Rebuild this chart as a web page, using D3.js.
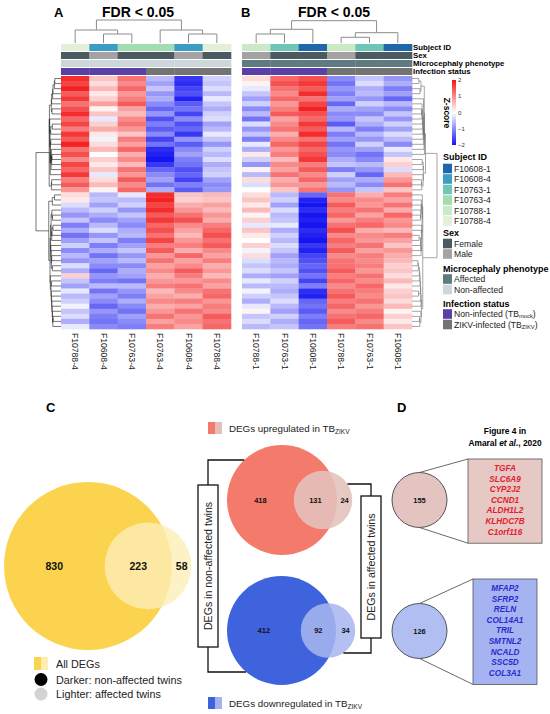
<!DOCTYPE html>
<html><head><meta charset="utf-8">
<script src="https://cdn.jsdelivr.net/npm/d3@7"></script>
<style>body{margin:0;background:#fff}svg{display:block;font-family:"Liberation Sans",Arial,sans-serif}</style>
</head><body><svg id="c" width="550" height="714"></svg>
<script>
// ---------------- DATA ----------------
const colsA = ["F10788-4","F10608-4","F10763-4","F10763-4","F10608-4","F10788-4"];
const colsB = ["F10788-1","F10763-1","F10608-1","F10788-1","F10763-1","F10608-1"];
const sexA = ["Female","Male","Female","Female","Male","Female"];
const sexB = ["Male","Female","Female","Male","Female","Female"];
const microA = ["Non-affected","Non-affected","Non-affected","Non-affected","Non-affected","Non-affected"];
const microB = ["Affected","Affected","Affected","Affected","Affected","Affected"];
const infA = ["Non-infected","Non-infected","Non-infected","ZIKV-infected","ZIKV-infected","ZIKV-infected"];
const infB = ["Non-infected","Non-infected","Non-infected","ZIKV-infected","ZIKV-infected","ZIKV-infected"];
const colTreeA = {h:2.3,children:[{h:1.3,children:[{leaf:0},{h:0.9,children:[{leaf:1},{leaf:2}]}]},{h:1.3,children:[{leaf:3},{h:0.9,children:[{leaf:4},{leaf:5}]}]}]};
const colTreeB = {h:2.23,children:[{h:1.37,children:[{h:0.9,children:[{leaf:0},{leaf:1}]},{leaf:2}]},{h:1.03,children:[{h:0.57,children:[{leaf:3},{leaf:4}]},{leaf:5}]}]};
const heatA = [
[1.8,0.5,1.2,-0.6,-1.7,-0.4],[1.6,0.3,1.0,-0.8,-1.8,-0.5],[1.9,0.6,1.3,-0.5,-1.6,-0.3],[1.4,0.2,0.9,-0.9,-1.5,-0.6],
[1.7,0.4,1.1,-0.7,-1.9,-0.2],[1.2,0.8,1.4,-1.0,-1.4,-0.5],[1.5,0.1,0.8,-1.3,-1.2,-0.7],[1.8,0.5,0.6,-0.9,-1.6,-0.4],
[1.3,-0.2,1.0,-1.5,-1.0,-0.3],[1.6,0.4,1.2,-1.1,-1.5,-0.8],[1.1,0.7,0.9,-1.4,-1.3,-0.6],[1.7,0.2,0.5,-1.0,-1.7,-0.2],
[1.4,-0.1,1.1,-1.6,-0.9,-0.5],[1.9,0.3,0.8,-1.2,-1.4,-0.9],[1.2,0.6,1.3,-1.8,-1.0,-0.4],[1.5,0.0,0.7,-1.9,-0.8,-0.6],
[1.0,0.4,1.0,-2.0,-1.1,-0.3],[1.6,0.2,0.6,-1.7,-1.2,-0.7],[1.3,0.5,1.2,-1.3,-1.5,-0.5],[1.7,-0.2,0.9,-1.0,-1.3,-0.4],
[1.1,0.3,1.4,-0.8,-1.6,-0.8],[1.4,0.6,1.0,-1.2,-1.1,-1.0],[0.9,0.1,1.3,-0.7,-1.4,-0.9],[0.3,-0.6,-0.2,1.8,0.5,0.6],
[0.2,-0.5,-0.6,1.9,0.4,0.5],[-0.3,-0.8,-0.4,1.6,0.7,0.8],[-0.6,-0.4,-0.9,1.8,0.9,0.6],[-0.9,-0.7,-0.5,1.4,1.2,0.9],
[-0.5,-1.0,-0.8,1.7,1.5,0.7],[-1.1,-0.6,-1.0,1.3,1.0,1.1],[-0.7,-0.3,-0.7,1.5,0.8,1.3],[-1.2,-0.9,-0.6,1.2,0.6,1.5],
[-0.8,-0.5,-1.1,1.6,0.9,1.2],[-0.4,-1.1,-0.8,1.1,1.1,1.4],[-1.0,-0.7,-0.5,1.4,0.7,1.0],[-0.6,-1.2,-0.9,0.9,1.3,0.8],
[-0.9,-0.8,-0.6,1.2,0.8,1.1],[-0.3,-1.0,-1.0,0.8,1.0,0.7],[-0.7,-1.3,-0.7,1.0,1.4,0.9],[0.4,-0.9,-0.8,0.7,1.1,0.6],
[-0.5,-1.1,-1.2,0.9,0.9,1.0],[-0.8,-0.6,-0.6,1.1,1.2,0.8],[-0.2,-1.2,-0.9,0.6,1.0,1.2],[-0.6,-0.8,-1.1,0.8,0.7,1.3],
[-0.4,-1.0,-0.7,1.0,1.1,0.9],[-0.1,-1.3,-1.0,0.7,0.8,1.1],[-0.5,-0.9,-1.2,0.9,1.2,1.0],[-0.3,-1.1,-0.8,1.2,0.9,1.4],
[-0.7,-1.2,-1.0,0.8,1.0,1.2],[-0.2,-1.0,-1.1,1.1,0.8,1.3]];
const heatB = [
[0.3,1.3,1.5,-1.0,-0.5,-0.9],[0.1,1.5,1.7,-1.2,-0.3,-0.7],[-0.2,1.2,1.4,-0.9,-0.7,-1.1],[-0.5,1.0,1.8,-1.1,-0.6,-0.8],
[-0.8,1.3,1.2,-0.8,-0.9,-1.3],[-0.4,0.9,1.6,-1.3,-0.4,-0.6],[-1.0,1.1,1.9,-0.7,-0.8,-1.0],[-0.6,1.4,1.5,-1.0,-1.0,-0.5],
[-1.2,0.8,1.3,-0.9,-0.5,-0.9],[-0.3,1.0,1.7,-1.4,-0.7,-0.4],[-0.9,1.2,1.4,-0.6,-1.1,-0.8],[-0.5,0.7,1.8,-1.1,-0.6,-0.3],
[-1.1,1.0,1.2,-0.8,-0.9,-0.6],[-0.2,1.3,1.6,-1.2,-0.4,-1.0],[-0.7,0.9,1.3,-0.9,-0.8,-0.2],[0.2,1.1,1.5,-1.0,-1.2,-0.5],
[-0.4,0.6,1.7,-0.7,-1.0,0.2],[-0.9,1.0,1.1,-0.5,-0.6,0.4],[0.1,0.8,1.4,-1.1,-0.9,-0.3],[-0.6,1.2,1.0,-0.4,-1.3,0.6],
[0.3,0.7,1.3,-0.8,-0.7,0.9],[-0.3,0.9,0.9,-0.6,-1.0,1.2],[0.0,0.5,1.2,-0.9,-0.5,0.5],
[0.3,-0.6,-1.3,1.2,0.7,1.1],[0.5,-0.4,-1.9,1.0,1.0,0.8],[0.2,-0.8,-2.0,1.4,0.9,1.2],[0.6,-0.3,-1.8,1.1,1.2,0.7],
[0.1,-0.6,-2.0,1.3,0.8,1.3],[0.4,-0.5,-1.9,0.9,1.1,0.9],[-0.2,-0.2,-2.0,1.2,1.3,1.0],[0.5,-0.7,-1.8,1.5,0.7,0.6],
[0.2,-0.4,-1.9,1.0,1.0,1.1],[0.0,-0.6,-2.0,1.3,0.9,0.8],[0.4,-0.3,-1.7,1.1,1.2,0.5],[-0.1,-0.5,-1.9,1.4,0.8,0.9],
[0.3,-0.8,-1.6,1.0,1.1,0.7],[-0.3,-0.6,-1.5,1.2,1.0,0.6],
[-0.5,-0.7,-1.3,1.2,1.1,0.4],[-0.3,-0.5,-1.5,1.4,0.9,0.5],[-0.7,-0.8,-1.2,1.1,1.2,0.3],[-0.2,-0.4,-1.6,1.3,1.0,0.6],
[-0.6,-0.6,-1.1,1.0,1.3,0.2],[-0.1,-0.7,-1.8,1.2,1.1,0.4],[-0.4,-0.5,-1.9,1.4,1.0,0.5],[-0.7,-0.3,-1.3,1.1,1.2,0.3],
[-0.2,-0.6,-1.2,1.3,0.9,0.6],[0.1,-0.8,-1.4,1.0,1.1,0.1],[-0.5,-0.4,-1.1,1.2,1.3,0.4],[-0.3,-0.7,-1.3,1.4,1.0,0.2],
[-0.6,-0.5,-1.2,1.1,1.2,0.5]];
const subjects = ["F10608-1","F10608-4","F10763-1","F10763-4","F10788-1","F10788-4"];
const subjectColors = ["#1f67ab","#3b9cc4","#6ec7b6","#a2dcb1","#c9eac4","#e4efd9"];
const sexes = ["Female","Male"];
const sexColors = ["#4a5a60","#a3a3a3"];
const phenos = ["Affected","Non-affected"];
const phenoColors = ["#5f7a80","#cdd6da"];
const infections = ["Non-infected","ZIKV-infected"];
const infLabels = [["Non-infected (TB","mock",")"],["ZIKV-infected (TB","ZIKV",")"]];
const infColors = ["#5a3fa7","#737373"];
const zTicks = [2,1,0,-1,-2];
const allDEGs = [830,223,58];      // non-affected only, both, affected only
const upDEGs = [418,131,24];
const downDEGs = [412,92,34];
const figure4 = [155,126];
const upGenes = ["TGFA","SLC6A9","CYP2J2","CCND1","ALDH1L2","KLHDC7B","C1orf116"];
const downGenes = ["MFAP2","SFRP2","RELN","COL14A1","TRIL","SMTNL2","NCALD","SSC5D","COL3A1"];

// ---------------- DRAW ----------------
const svg = d3.select("#c");
const zColor = d3.scaleLinear().domain([-2,0,2]).range(["#1515f2","#ffffff","#f21515"]).clamp(true);
const colorOf = (cats, cols) => d3.scaleOrdinal().domain(cats).range(cols);
const subjC = colorOf(subjects, subjectColors), sexC = colorOf(sexes, sexColors),
      phenoC = colorOf(phenos, phenoColors), infC = colorOf(infections, infColors);

function clusterRows(data){
  let cl = data.map((v,i)=>({leaf:i,members:[i],h:0}));
  const d2 = (i,j)=>Math.sqrt(d3.sum(data[i],(v,k)=>(v-data[j][k])**2));
  const link = (a,b)=>{let s=0;for(const i of a.members)for(const j of b.members)s+=d2(i,j);return s/(a.members.length*b.members.length);};
  while(cl.length>1){
    let best=0,bd=Infinity;
    for(let i=0;i<cl.length-1;i++){const d=link(cl[i],cl[i+1]);if(d<bd){bd=d;best=i;}}
    const a=cl[best],b=cl[best+1];
    cl.splice(best,2,{children:[a,b],members:a.members.concat(b.members),h:Math.max(bd,a.h,b.h)+0.05});
  }
  return cl[0];
}

function drawPanel(o){
  const g = svg.append("g");
  const x = d3.scaleBand().domain(d3.range(o.cols.length)).range([o.x0,o.x1]);
  const y = d3.scaleBand().domain(d3.range(o.data.length)).range([76,329]);
  o.data.forEach((row,r)=>row.forEach((v,c)=>{
    g.append("rect").attr("x",x(c)).attr("y",y(r)).attr("width",x.bandwidth()+0.3).attr("height",y.bandwidth()+0.3).attr("fill",zColor(v));
  }));
  const ann = [[o.subj,subjC,44],[o.sex,sexC,52],[o.micro,phenoC,60],[o.inf,infC,68]];
  ann.forEach(([vals,sc,yy])=>vals.forEach((v,c)=>{
    g.append("rect").attr("x",x(c)).attr("y",yy).attr("width",x.bandwidth()+0.3).attr("height",7).attr("fill",sc(v));
  }));
  const ty = d3.scaleLinear().domain([0,o.colTree.h]).range([43,43-10*o.colTree.h]);
  const root = d3.hierarchy(o.colTree);
  root.eachAfter(n=>{
    if(!n.children){n.px=x(n.data.leaf)+x.bandwidth()/2;n.py=ty(0);}
    else{n.px=d3.mean(n.children,c=>c.px);n.py=ty(n.data.h);}
  });
  root.each(n=>{ if(n.children){
    const [a,b]=n.children;
    g.append("path").attr("d",`M${a.px},${a.py}V${n.py}H${b.px}V${b.py}`).attr("fill","none").attr("stroke","#8c8c8c").attr("stroke-width",1);
  }});
  const rroot = d3.hierarchy(clusterRows(o.data), d=>d.children);
  const hx = d3.scalePow().exponent(0.6).domain([0,rroot.data.h]).range(o.dendRange);
  rroot.eachAfter(n=>{
    if(!n.children){n.py=y(n.data.leaf)+y.bandwidth()/2;n.px=hx(0);}
    else{n.py=d3.mean(n.children,c=>c.py);n.px=hx(n.data.h);}
  });
  rroot.each(n=>{ if(n.children){
    const [a,b]=n.children;
    g.append("path").attr("d",`M${a.px},${a.py}H${n.px}V${b.py}H${b.px}`).attr("fill","none").attr("stroke",o.dendColor).attr("stroke-width",0.6);
  }});
  o.cols.forEach((lab,c)=>{
    g.append("text").attr("transform",`translate(${x(c)+x.bandwidth()/2},333) rotate(90)`)
      .attr("dominant-baseline","central").attr("font-size",8.6).attr("fill","#222").text(lab);
  });
  g.append("text").attr("x",o.titleX).attr("y",17).attr("text-anchor","middle").attr("font-weight","bold").attr("font-size",14).text("FDR < 0.05");
  g.append("text").attr("x",o.labX).attr("y",17).attr("font-weight","bold").attr("font-size",13).text(o.lab);
}

drawPanel({x0:61,x1:231,data:heatA,cols:colsA,subj:colsA,sex:sexA,micro:microA,inf:infA,colTree:colTreeA,dendRange:[61,36],dendColor:"#1a1a1a",titleX:138,labX:54,lab:"A"});
drawPanel({x0:242,x1:412,data:heatB,cols:colsB,subj:colsB,sex:sexB,micro:microB,inf:infB,colTree:colTreeB,dendRange:[412,437],dendColor:"#6a6a6a",titleX:334,labX:241,lab:"B"});

[["Subject ID",47.5],["Sex",55.5],["Microcephaly phenotype",63.5],["Infection status",71.5]].forEach(([t,yy])=>{
  svg.append("text").attr("x",413).attr("y",yy).attr("dominant-baseline","central").attr("font-weight","bold").attr("font-size",7.8).text(t);
});

const defs = svg.append("defs");
const grad = defs.append("linearGradient").attr("id","zg").attr("x1",0).attr("y1",1).attr("x2",0).attr("y2",0);
d3.range(-2,2.01,0.5).forEach(v=>grad.append("stop").attr("offset",(v+2)/4).attr("stop-color",zColor(v)));
const zy = d3.scaleLinear().domain([-2,2]).range([145,80]);
svg.append("rect").attr("x",452).attr("y",zy(2)).attr("width",4).attr("height",zy(-2)-zy(2)).attr("fill","url(#zg)");
zTicks.forEach(t=>svg.append("text").attr("x",458).attr("y",zy(t)).attr("dominant-baseline","central").attr("font-size",6).attr("fill","#333").text(t===0?"0":(t<0?"\u2212"+(-t):t)));
svg.append("text").attr("transform","translate(447,113) rotate(90)").attr("text-anchor","middle").attr("dominant-baseline","central").attr("font-weight","bold").attr("font-size",8.5).text("Z-score");

function legend(title, ty, labels, colors, y0){
  svg.append("text").attr("x",443).attr("y",ty).attr("dominant-baseline","central").attr("font-weight","bold").attr("font-size",9).text(title);
  labels.forEach((l,i)=>{
    const yy = y0 + i*10.5;
    svg.append("rect").attr("x",443).attr("y",yy-4.8).attr("width",9).attr("height",9.6).attr("fill",colors[i]);
    const t = svg.append("text").attr("x",454).attr("y",yy).attr("dominant-baseline","central").attr("font-size",8.6).attr("fill","#222");
    if(Array.isArray(l)){
      t.append("tspan").text(l[0]);
      t.append("tspan").attr("font-size",5.8).attr("dy",2).text(l[1]);
      t.append("tspan").attr("dy",-2).text(l[2]);
    } else t.text(l);
  });
}
legend("Subject ID",157,subjects,subjectColors,168.5);
legend("Sex",233,sexes,sexColors,243.5);
legend("Microcephaly phenotype",268.5,phenos,phenoColors,279);
legend("Infection status",303.5,infLabels,infColors,314);

// ---------------- PANEL C ----------------
svg.append("text").attr("x",46).attr("y",412).attr("font-weight","bold").attr("font-size",13).text("C");
svg.append("text").attr("x",397).attr("y",412).attr("font-weight","bold").attr("font-size",13).text("D");

function venn(counts, cx, cy, rMax, dx, bigCol, smallCol, smallOp, fs){
  const total = counts[0]+counts[1];
  const r = d3.scaleSqrt().domain([0,total]).range([0,rMax]);
  const rB = r(total), rS = r(counts[1]+counts[2]);
  const sx = cx + dx;
  svg.append("circle").attr("cx",cx).attr("cy",cy).attr("r",rB).attr("fill",bigCol);
  svg.append("circle").attr("cx",sx).attr("cy",cy).attr("r",rS).attr("fill",smallCol).attr("fill-opacity",smallOp);
  const xs = [(cx-rB + sx-rS)/2, (sx-rS + cx+rB)/2, (cx+rB + sx+rS)/2];
  counts.forEach((c,i)=>svg.append("text").attr("x",xs[i]).attr("y",cy).attr("text-anchor","middle").attr("dominant-baseline","central")
    .attr("font-weight","bold").attr("font-size",fs).attr("fill","#111").text(c));
  return {cx,cy,rB,sx,rS};
}
venn(allDEGs, 88, 566, 84, 60, "#fcd34e", "#fdedb8", 0.8, 10.5);
const vu = venn(upDEGs, 282, 500, 55, 41, "#f47b6b", "#e4c2bc", 0.88, 7.5);
const vd = venn(downDEGs, 281.5, 630.5, 54.5, 46.5, "#3e63dc", "#a9b6f0", 0.86, 7.5);

svg.append("rect").attr("x",34).attr("y",657).attr("width",7).attr("height",13).attr("fill","#fcd34e");
svg.append("rect").attr("x",41).attr("y",657).attr("width",7).attr("height",13).attr("fill","#fdecb4");
svg.append("text").attr("x",56).attr("y",667.5).attr("font-size",10.8).attr("fill","#222").text("All DEGs");
svg.append("circle").attr("cx",41).attr("cy",679.5).attr("r",6.5).attr("fill","#000");
svg.append("text").attr("x",56).attr("y",683.5).attr("font-size",10.8).attr("fill","#222").text("Darker: non-affected twins");
svg.append("circle").attr("cx",41).attr("cy",694).attr("r",6.5).attr("fill","#d3d3d3");
svg.append("text").attr("x",56).attr("y",698).attr("font-size",10.8).attr("fill","#222").text("Lighter: affected twins");

function degLegend(yy, c1, c2, label){
  svg.append("rect").attr("x",208).attr("y",yy-6).attr("width",7).attr("height",12).attr("fill",c1);
  svg.append("rect").attr("x",215).attr("y",yy-6).attr("width",7).attr("height",12).attr("fill",c2);
  const t = svg.append("text").attr("x",229).attr("y",yy+3.5).attr("font-size",9.8).attr("fill","#222");
  t.append("tspan").text(label);
  t.append("tspan").attr("font-size",6.5).attr("dy",2.5).text("ZIKV");
}
degLegend(428, "#f47b6b", "#e2bfb9", "DEGs upregulated in TB");
degLegend(703, "#3e63dc", "#a3b3ef", "DEGs downregulated in TB");

const line = (d)=>svg.append("path").attr("d",d).attr("fill","none").attr("stroke","#111").attr("stroke-width",1.3);
const edgeL = (v,yy)=>v.cx - Math.sqrt(v.rB**2 - (yy-v.cy)**2);
const edgeR = (v,yy)=>v.sx + Math.sqrt(v.rS**2 - (yy-v.cy)**2);
line(`M${edgeL(vu,460)},460H208V485`);
line(`M208,647V672H${edgeL(vd,672)}`);
line(`M${edgeR(vu,484)},484H371V496`);
line(`M371,638V653H${edgeR(vd,653)}`);
function vbox(x0,y0,x1,y1,label){
  svg.append("rect").attr("x",x0).attr("y",y0).attr("width",x1-x0).attr("height",y1-y0).attr("fill","#fff").attr("stroke","#111").attr("stroke-width",1.3);
  svg.append("text").attr("transform",`translate(${(x0+x1)/2},${(y0+y1)/2}) rotate(-90)`).attr("text-anchor","middle").attr("dominant-baseline","central")
    .attr("font-size",10.6).attr("fill","#222").text(label);
}
vbox(198,485,218,647,"DEGs in non-affected twins");
vbox(361,496,381,638,"DEGs in affected twins");

// ---------------- PANEL D ----------------
svg.append("text").attr("x",505).attr("y",434).attr("text-anchor","middle").attr("font-weight","bold").attr("font-size",8.4).text("Figure 4 in");
const t2 = svg.append("text").attr("x",505).attr("y",446).attr("text-anchor","middle").attr("font-weight","bold").attr("font-size",8.4);
t2.append("tspan").text("Amaral ");
t2.append("tspan").attr("font-style","italic").text("et al.");
t2.append("tspan").text(", 2020");

function geneBox(count, cy, x0, x1, y0, genes, fillC, boxC, textC){
  const r = 27.5, cx = 419.5;
  const y1 = y0 + genes.length*10.6 + 10;
  svg.append("line").attr("x1",cx).attr("y1",cy-r).attr("x2",x0).attr("y2",y0).attr("stroke","#444").attr("stroke-width",0.8);
  svg.append("line").attr("x1",cx).attr("y1",cy+r).attr("x2",x0).attr("y2",y1).attr("stroke","#444").attr("stroke-width",0.8);
  svg.append("circle").attr("cx",cx).attr("cy",cy).attr("r",r).attr("fill",fillC).attr("stroke","#444").attr("stroke-width",0.9);
  svg.append("text").attr("x",cx).attr("y",cy).attr("text-anchor","middle").attr("dominant-baseline","central").attr("font-weight","bold").attr("font-size",7.5).attr("fill","#111").text(count);
  svg.append("rect").attr("x",x0).attr("y",y0).attr("width",x1-x0).attr("height",y1-y0).attr("fill",boxC).attr("stroke","#555").attr("stroke-width",0.8);
  genes.forEach((gname,i)=>svg.append("text").attr("x",(x0+x1)/2).attr("y",y0+9.5+i*10.6).attr("text-anchor","middle").attr("dominant-baseline","central")
    .attr("font-weight","bold").attr("font-style","italic").attr("font-size",8.2).attr("fill",textC).text(gname));
}
geneBox(figure4[0], 500, 468, 542, 459, upGenes, "#e3c4c0", "#e6c8c4", "#e3202c");
geneBox(figure4[1], 631, 473, 537, 579, downGenes, "#b1bef2", "#a5b3f0", "#2b2bd2");
</script></body></html>
